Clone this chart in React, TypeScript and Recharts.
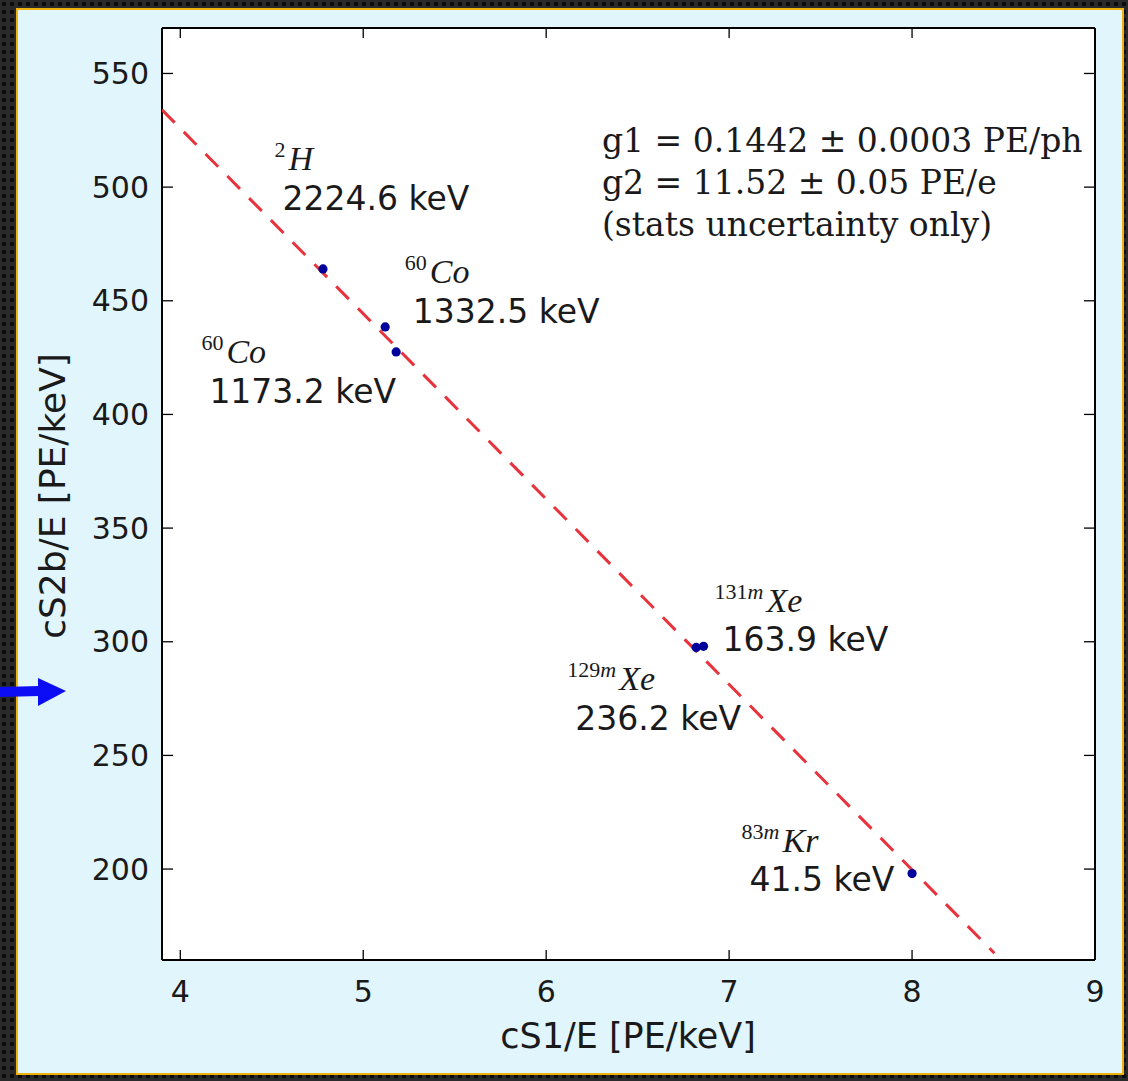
import React from 'react';
import { ScatterChart, Scatter, XAxis, YAxis, CartesianGrid, Customized, ReferenceLine } from 'recharts';

// ---- data ----
const xTicks = [4, 5, 6, 7, 8, 9];
const yTicks = [200, 250, 300, 350, 400, 450, 500, 550];
const xDomain = [3.9, 9];
const yDomain = [160, 570];

const calibX = [4.78, 5.12, 5.18, 6.82, 6.86, 8.0];
const calibY = [464, 438.5, 427.5, 297.5, 298, 198];

const fitX = [3.9, 8.45];
const fitY = [534, 163];

const isotopeMass = ['2', '60', '60', '131', '129', '83'];
const isotopeMeta = ['', '', '', 'm', 'm', 'm'];
const isotopeSymbol = ['H', 'Co', 'Co', 'Xe', 'Xe', 'Kr'];
const energyLabels = ['2224.6 keV', '1332.5 keV', '1173.2 keV', '163.9 keV', '236.2 keV', '41.5 keV'];
const labelX = [4.559, 5.271, 4.159, 6.964, 6.159, 7.112];
const labelY = [495.2, 445.5, 410.3, 300.8, 266.4, 195.2];

const fitTextLines = ['g1 = 0.1442 \u00B1 0.0003 PE/ph', 'g2 = 11.52 \u00B1 0.05 PE/e', '(stats uncertainty only)'];
const xTitle = 'cS1/E [PE/keV]';
const yTitle = 'cS2b/E [PE/keV]';

const calibData = calibX.map((x, i) => ({ x, y: calibY[i] }));
const fitData = fitX.map((x, i) => ({ x, y: fitY[i] }));
const labelData = labelX.map((x, i) => ({
  x,
  y: labelY[i],
  mass: isotopeMass[i],
  meta: isotopeMeta[i],
  sym: isotopeSymbol[i],
  energy: energyLabels[i],
}));

// plot geometry (pixels) used to convert tick length into data units
const PLOT_W = 933;
const PLOT_H = 932;
const TICK_PX_X = 10;
const TICK_PX_Y = 11;
const tickLenY = (TICK_PX_X * (yDomain[1] - yDomain[0])) / PLOT_H;
const tickLenX = (TICK_PX_Y * (xDomain[1] - xDomain[0])) / PLOT_W;

const SANS = "'DejaVu Sans', 'Bitstream Vera Sans', sans-serif";
const SERIF = "'DejaVu Serif', serif";
const MATH = "'Liberation Serif', 'DejaVu Serif', serif";
const TEXT = '#1a1a1a';
const TICK_STYLE = { stroke: '#000', strokeWidth: 1.3 };

const Empty = () => <g />;

const LabelShape = (props: any) => {
  const { cx, cy, payload } = props;
  if (cx == null || cy == null) return <g />;
  return (
    <g>
      <text x={cx - 8} y={cy - 28} fill={TEXT} fontFamily={MATH}>
        <tspan fontSize={22} dy={-13}>{payload.mass}</tspan>
        {payload.meta ? (
          <tspan fontSize={22} fontStyle="italic">{payload.meta}</tspan>
        ) : null}
        <tspan fontSize={34} fontStyle="italic" dy={13} dx={3}>{payload.sym}</tspan>
      </text>
      <text x={cx} y={cy} dominantBaseline="central" fill={TEXT} fontFamily={SANS} fontSize={33}>
        {payload.energy}
      </text>
    </g>
  );
};

const DotShape = (props: any) => {
  const { cx, cy } = props;
  if (cx == null || cy == null) return <g />;
  return <circle cx={cx} cy={cy} r={4.6} fill="#00009a" />;
};

const Overlay = () => (
  <g>
    <text x={628} y={1036} textAnchor="middle" dominantBaseline="central" fill={TEXT} fontFamily={SANS} fontSize={35}>
      {xTitle}
    </text>
    <text
      x={52}
      y={496}
      textAnchor="middle"
      dominantBaseline="central"
      fill={TEXT}
      fontFamily={SANS}
      fontSize={36}
      transform="rotate(-90 52 496)"
    >
      {yTitle}
    </text>
    {fitTextLines.map((t, i) => (
      <text key={i} x={602} y={140 + i * 42} dominantBaseline="central" fill={TEXT} fontFamily={SERIF} fontSize={33}>
        {t}
      </text>
    ))}
    <g>
      <polygon points="0,687 40,686 40,696 0,697" fill="#0c0cf5" />
      <polygon points="38,678 66,691 38,706" fill="#0c0cf5" />
    </g>
  </g>
);

export default function App() {
  return (
    <div
      style={{
        position: 'relative',
        width: 1128,
        height: 1081,
        overflow: 'hidden',
        background: 'radial-gradient(circle, #0a0a0a 2px, transparent 2.6px) 0 0 / 8px 8px, #2a2a2a',
      }}
    >
      <style>{'body{margin:0;}'}</style>
      <div
        style={{
          position: 'absolute',
          left: 16,
          top: 8,
          width: 1104,
          height: 1063,
          background: '#e1f5fd',
          border: '2px solid #f0b30e',
        }}
      />
      <div style={{ position: 'absolute', left: 0, top: 0 }}>
        <ScatterChart width={1128} height={1081} margin={{ top: 28, right: 33, bottom: 61, left: 82 }}>
          <CartesianGrid horizontal={false} vertical={false} fill="#ffffff" fillOpacity={1} />
          <XAxis
            type="number"
            dataKey="x"
            domain={xDomain}
            ticks={xTicks}
            allowDataOverflow
            height={60}
            axisLine={{ stroke: '#000', strokeWidth: 2 }}
            tickLine={false}
            tickMargin={15}
            tick={{ fontSize: 30, fill: TEXT, fontFamily: SANS }}
          />
          <YAxis
            type="number"
            dataKey="y"
            domain={yDomain}
            ticks={yTicks}
            allowDataOverflow
            width={80}
            axisLine={{ stroke: '#000', strokeWidth: 2 }}
            tickLine={false}
            tickMargin={7}
            tick={{ fontSize: 30, fill: TEXT, fontFamily: SANS }}
          />
          {xTicks.map((t) => (
            <ReferenceLine
              key={'xb' + t}
              segment={[{ x: t, y: yDomain[0] }, { x: t, y: yDomain[0] + tickLenY }]}
              {...TICK_STYLE}
            />
          ))}
          {xTicks.map((t) => (
            <ReferenceLine
              key={'xt' + t}
              segment={[{ x: t, y: yDomain[1] }, { x: t, y: yDomain[1] - tickLenY }]}
              {...TICK_STYLE}
            />
          ))}
          {yTicks.map((t) => (
            <ReferenceLine
              key={'yl' + t}
              segment={[{ x: xDomain[0], y: t }, { x: xDomain[0] + tickLenX, y: t }]}
              {...TICK_STYLE}
            />
          ))}
          {yTicks.map((t) => (
            <ReferenceLine
              key={'yr' + t}
              segment={[{ x: xDomain[1], y: t }, { x: xDomain[1] - tickLenX, y: t }]}
              {...TICK_STYLE}
            />
          ))}
          <ReferenceLine y={yDomain[1]} stroke="#000" strokeWidth={2} />
          <ReferenceLine x={xDomain[1]} stroke="#000" strokeWidth={2} />
          <Scatter
            data={fitData}
            line={{ stroke: '#e8323c', strokeWidth: 3, strokeDasharray: '18 13' }}
            shape={Empty}
            isAnimationActive={false}
          />
          <Scatter data={calibData} shape={DotShape} isAnimationActive={false} />
          <Scatter data={labelData} shape={LabelShape} isAnimationActive={false} />
          <Customized component={Overlay} />
        </ScatterChart>
      </div>
    </div>
  );
}
